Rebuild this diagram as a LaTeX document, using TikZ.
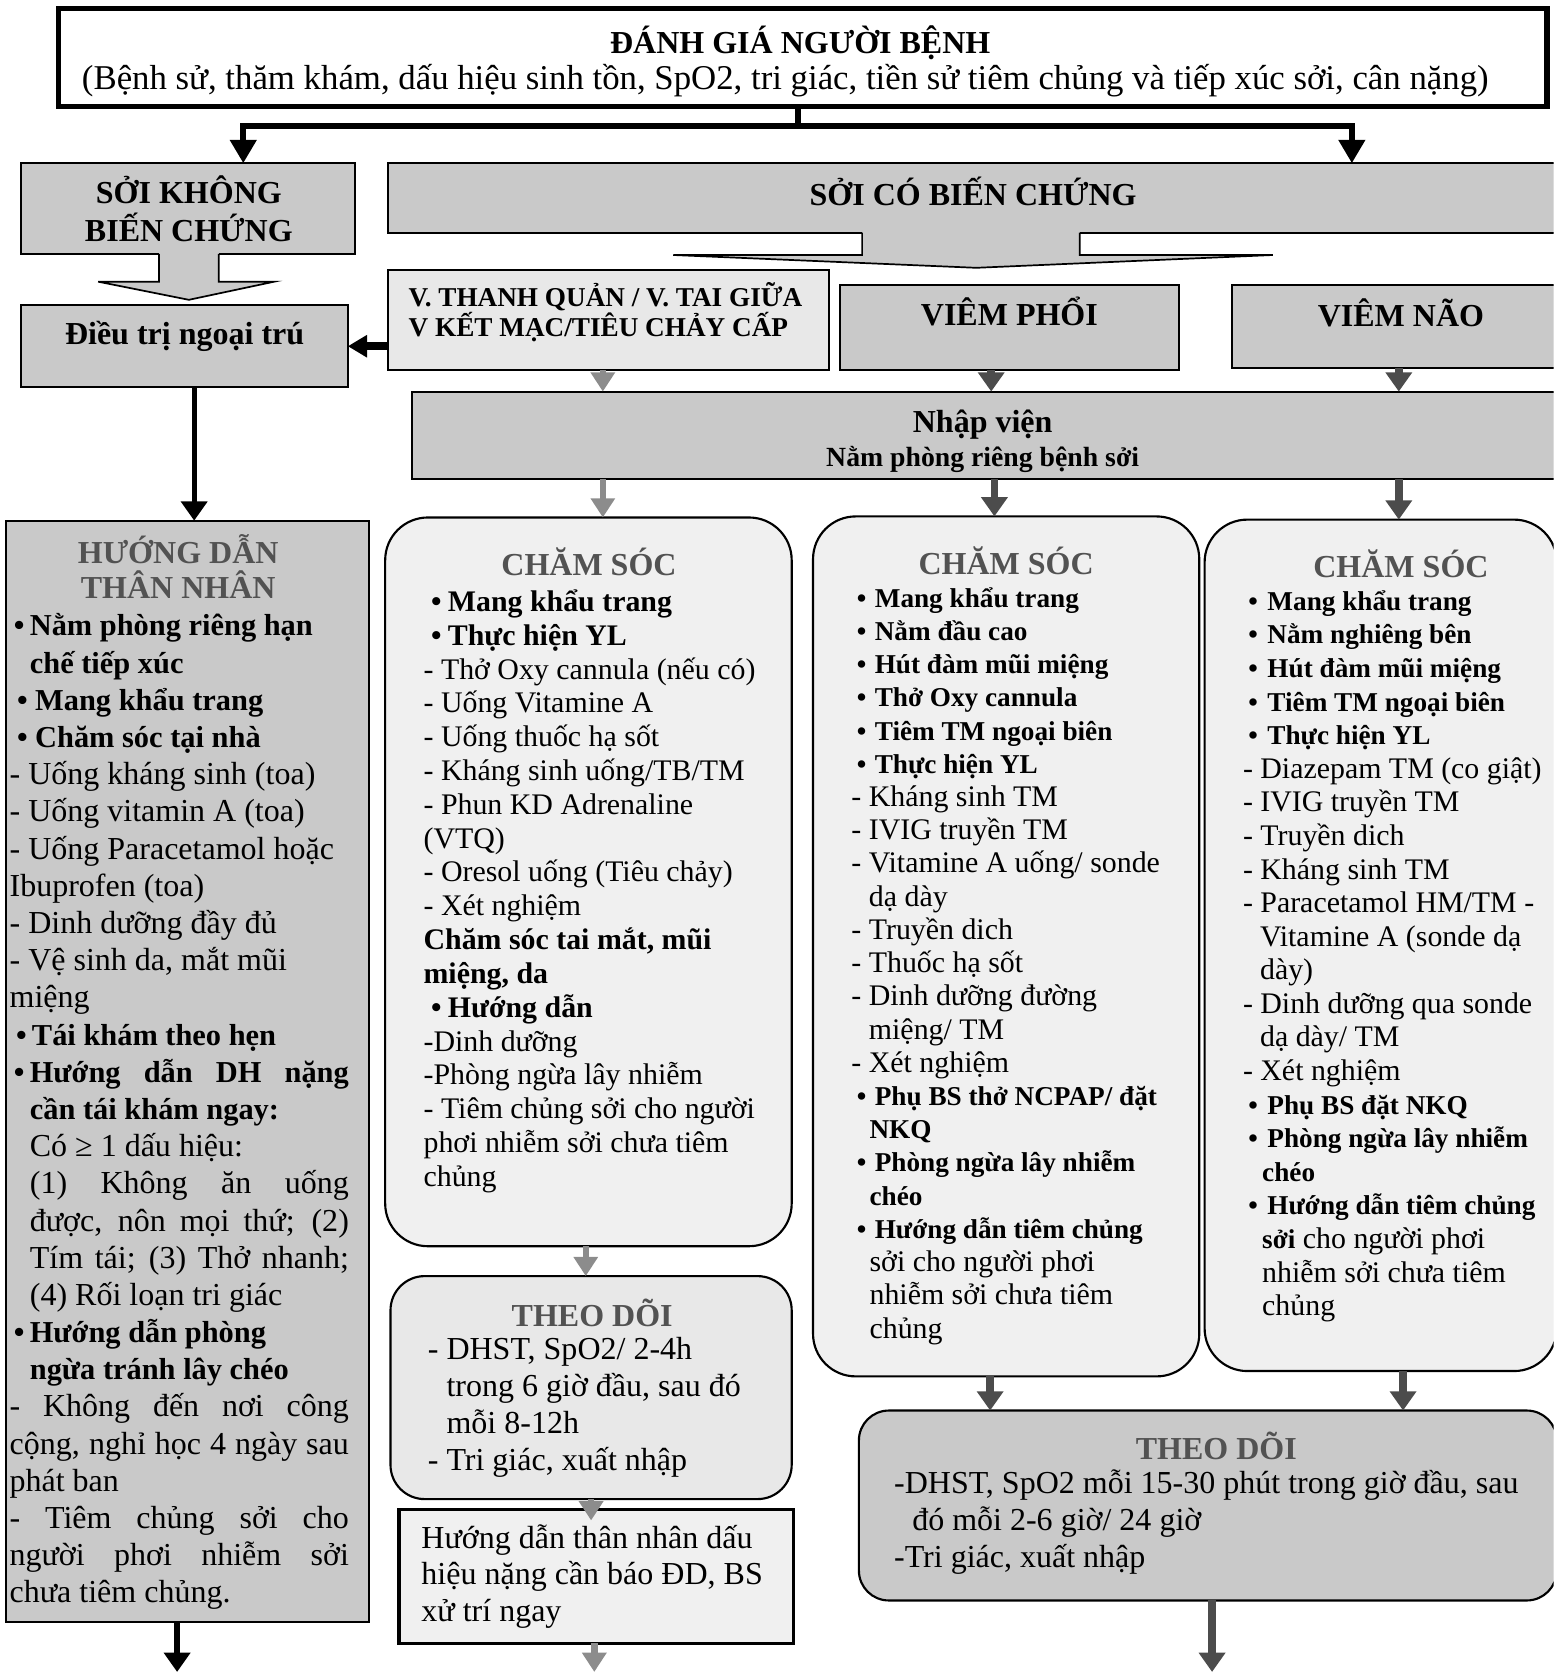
\documentclass[tikz,border=0pt]{standalone}
\usepackage{fontspec}
\setmainfont{Liberation Serif}
\usetikzlibrary{arrows.meta}
\definecolor{boxgray}{gray}{0.79}
\definecolor{lightfill}{gray}{0.94}
\definecolor{vfill}{gray}{0.91}
\definecolor{tdfill}{gray}{0.91}
\definecolor{headgray}{gray}{0.32}
\definecolor{arrowlight}{gray}{0.55}
\definecolor{arrowdark}{gray}{0.3}
\newcommand\fs[2]{\fontsize{#1}{#2}\selectfont}
\newcommand\setbf[2]{\def\bfsz{#1}\def\bfsk{#2}}
\newcommand\mybf[1]{{\fontsize{\bfsz}{\bfsk}\selectfont\bfseries #1}}
\newcommand\pbt[2]{\parbox[t]{#1}{\lineskiplimit=-50pt\lineskip=0pt #2}}
\begin{document}
\begin{tikzpicture}[x=0.5pt,y=-0.5pt,
  boxbase/.style={draw=black, line width=1pt, inner sep=0pt, outer sep=0pt},
  graybox/.style={boxbase, fill=boxgray},
  lightbox/.style={boxbase, fill=lightfill},
  sz/.style 2 args={minimum width=#1, minimum height=#2},
  txtw/.style={inner sep=0pt, outer sep=0pt, anchor=base west},
  txtc/.style={inner sep=0pt, outer sep=0pt, anchor=base},
  heavyline/.style={draw=black, line width=3pt},
  heavyarrow/.style={draw=black, line width=3pt, -{Triangle[width=12pt,length=11pt]}},
  blackarrow/.style={draw=black, line width=2.5pt, -{Triangle[width=12pt,length=9pt]}},
  lightarrow/.style={draw=arrowlight, line width=3pt, -{Triangle[width=11pt,length=9pt]}},
  darkarrow/.style={draw=arrowdark, line width=3.5pt, -{Triangle[width=12pt,length=9pt]}},
  blockarrow/.style={fill=boxgray, draw=black, line width=0.8pt}
]
\useasboundingbox (0,0) rectangle (1456,1568);
\clip (0,0) rectangle (1456,1568);

% ---------- boxes ----------
\node[boxbase, fill=white, line width=2.5pt, sz={697.5pt}{46pt}] (top) at (752.5,54) {};
\node[graybox, sz={156.5pt}{42.5pt}] (skbc) at (176.5,195.5) {};
\node[graybox, sz={553pt}{32.5pt}] (scbc) at (917,185.5) {};
\node[graybox, sz={153pt}{38.5pt}] (dtnt) at (173,324.5) {};
\node[boxbase, fill=vfill, sz={206.5pt}{47pt}] (vtq) at (570.5,300) {};
\node[graybox, sz={159pt}{40pt}] (vp) at (946,307) {};
\node[graybox, sz={157.5pt}{39pt}] (vn) at (1312.5,306) {};
\node[graybox, sz={542pt}{41pt}] (nv) at (928,408) {};
\node[graybox, sz={170pt}{516pt}] (hdtn) at (176,1004) {};
\node[lightbox, rounded corners=20pt, sz={190.5pt}{341.5pt}] (cs1) at (551.5,826.5) {};
\node[boxbase, fill=tdfill, rounded corners=16pt, sz={188pt}{104.5pt}] (td1) at (554,1300.5) {};
\node[lightbox, line width=1.5pt, sz={185pt}{62.5pt}] (hd) at (559,1477.5) {};
\node[lightbox, rounded corners=20pt, sz={181pt}{403pt}] (cs2) at (943,887) {};
\node[lightbox, rounded corners=20pt, sz={165pt}{399pt}] (cs3) at (1294,886) {};
\node[graybox, rounded corners=14pt, sz={327pt}{89pt}] (td2) at (1132,1411) {};

% ---------- block arrows ----------
\fill[boxgray] (149,236) rectangle (205,265);
\filldraw[blockarrow] (149,238) -- (149,264) -- (92,264) -- (177,281) -- (257,264) -- (205,264) -- (205,238);
\fill[boxgray] (808,216) rectangle (1012,240);
\filldraw[blockarrow] (808,218) -- (808,239) -- (631,239) -- (915,251) -- (1193,239) -- (1012,239) -- (1012,218);

% ---------- connectors ----------
\coordinate (j) at (748,118);
\coordinate (jl) at (228,118);
\coordinate (jr) at (1267,118);
\draw[heavyline] (top.south -| j) -- (j);
\draw[heavyarrow] (j) -- (jl) -- (jl |- skbc.north);
\draw[heavyarrow] (j) -- (jr) -- (jr |- scbc.north);
\draw[draw=black, line width=3.5pt, -{Triangle[width=10pt,length=9pt]}] (vtq.west |- dtnt.east) -- (dtnt.east);
\coordinate (c1) at (182,0);
\draw[blackarrow] (dtnt.south -| c1) -- (hdtn.north -| c1);
\coordinate (e1) at (166,1567);
\draw[blackarrow] (hdtn.south -| e1) -- (e1);

\coordinate (g1) at (565,0);
\coordinate (g2) at (929,0);
\coordinate (g3) at (1311,0);
\coordinate (g4) at (932,0);
\draw[lightarrow] (vtq.south -| g1) -- (nv.north -| g1);
\draw[darkarrow] (vp.south -| g2) -- (nv.north -| g2);
\draw[darkarrow] (vn.south -| g3) -- (nv.north -| g3);
\draw[lightarrow] (nv.south -| g1) -- (cs1.north -| g1);
\draw[darkarrow] (nv.south -| g4) -- (cs2.north -| g4);
\draw[darkarrow] (nv.south -| g3) -- (cs3.north -| g3);
\coordinate (g5) at (549,0);
\coordinate (g6) at (554,0);
\draw[lightarrow] (cs1.south -| g5) -- (td1.north -| g5);
\draw[lightarrow, shorten >=-5pt] (td1.south -| g6) -- (hd.north -| g6);
\coordinate (e2) at (557,1567);
\draw[lightarrow] (hd.south -| e2) -- (e2);
\coordinate (g7) at (928,0);
\coordinate (g8) at (1315,0);
\draw[darkarrow] (cs2.south -| g7) -- (td2.north -| g7);
\draw[darkarrow] (cs3.south -| g8) -- (td2.north -| g8);
\coordinate (e3) at (1136,1567);
\draw[darkarrow] (td2.south -| e3) -- (e3);

% ---------- texts ----------
\node[txtc] (ttitle) at (750,50) {\fs{15}{17}\bfseries ĐÁNH GIÁ NGƯỜI BỆNH};
\node[txtc] (tsub) at (736,84) {\fs{16.3}{18}(Bệnh sử, thăm khám, dấu hiệu sinh tồn, SpO2, tri giác, tiền sử tiêm chủng và tiếp xúc sởi, cân nặng)};
\node[txtc] (tskbc) at (177,191) {\pbt{150pt}{\centering\fs{15}{17.5}\bfseries SỞI KHÔNG\\BIẾN CHỨNG}};
\node[txtc] (tscbc) at (912,193) {\fs{15}{17}\bfseries SỞI CÓ BIẾN CHỨNG};
\node[txtc] (tdtnt) at (173,323) {\fs{15}{17}\bfseries Điều trị ngoại trú};
\node[txtw] (tvtq) at (383,287) {\pbt{220pt}{\fs{12.75}{14}\bfseries V. THANH QUẢN / V. TAI GIỮA\\V KẾT MẠC/TIÊU CHẢY CẤP}};
\node[txtc] (tvp) at (946,305) {\fs{15}{17}\bfseries VIÊM PHỔI};
\node[txtc] (tvn) at (1313,306) {\fs{15}{17}\bfseries VIÊM NÃO};
\node[txtc] (tnv) at (921,405) {\pbt{300pt}{\centering\fs{15}{16}\bfseries Nhập viện\\{\fs{13}{16}Nằm phòng riêng bệnh sởi}}};

% left column
\node[txtc, text=headgray] (thdtnh) at (167,528) {\pbt{160pt}{\centering\fs{15}{16.5}\bfseries HƯỚNG DẪN\\THÂN NHÂN}};
\node[txtw] (thdtn) at (9,596) {\pbt{170pt}{\fs{15}{17.43}\setbf{14.25}{17.43}%
\mybf{\hspace*{2pt}•\hspace{2.5pt}Nằm phòng riêng hạn}\\
\hspace*{9.5pt}\mybf{chế tiếp xúc}\\
\mybf{\hspace*{3.5pt}•\hspace{3.5pt}Mang khẩu trang}\\
\mybf{\hspace*{3.5pt}•\hspace{3.5pt}Chăm sóc tại nhà}\\
- Uống kháng sinh (toa)\\
- Uống vitamin A (toa)\\
- Uống Paracetamol hoặc\\
Ibuprofen (toa)\\
- Dinh dưỡng đầy đủ\\
- Vệ sinh da, mắt mũi\\
miệng\\
\mybf{\hspace*{3pt}•\hspace{2.5pt}Tái khám theo hẹn}\\
\mybf{\hspace*{2pt}•\hspace{2.5pt}\makebox[149.5pt][s]{Hướng dẫn DH nặng}}\\
\hspace*{9.5pt}\mybf{cần tái khám ngay:}\\
\hspace*{9.5pt}Có ≥ 1 dấu hiệu:\\
\hspace*{9.5pt}\makebox[149.5pt][s]{(1) Không ăn uống}\\
\hspace*{9.5pt}\makebox[149.5pt][s]{được, nôn mọi thứ; (2)}\\
\hspace*{9.5pt}\makebox[149.5pt][s]{Tím tái; (3) Thở nhanh;}\\
\hspace*{9.5pt}(4) Rối loạn tri giác\\
\mybf{\hspace*{2pt}•\hspace{2.5pt}Hướng dẫn phòng}\\
\hspace*{9.5pt}\mybf{ngừa tránh lây chéo}\\
\makebox[159pt][s]{- Không đến nơi công}\\
\makebox[159pt][s]{cộng, nghỉ học 4 ngày sau}\\
phát ban\\
\makebox[159pt][s]{- Tiêm chủng sởi cho}\\
\makebox[159pt][s]{người phơi nhiễm sởi}\\
chưa tiêm chủng.}};

% column 2
\node[txtc, text=headgray] (tcs1h) at (552,539) {\fs{15}{17}\bfseries CHĂM SÓC};
\node[txtw] (tcs1) at (397,573) {\pbt{180pt}{\fs{14}{15.85}\setbf{14}{15.85}%
\mybf{\hspace*{3.5pt}•\hspace{3pt}Mang khẩu trang}\\
\mybf{\hspace*{3.5pt}•\hspace{3pt}Thực hiện YL}\\
- Thở Oxy cannula (nếu có)\\
- Uống Vitamine A\\
- Uống thuốc hạ sốt\\
- Kháng sinh uống/TB/TM\\
- Phun KD Adrenaline\\
(VTQ)\\
- Oresol uống (Tiêu chảy)\\
- Xét nghiệm\\
\mybf{Chăm sóc tai mắt, mũi}\\
\mybf{miệng, da}\\
\mybf{\hspace*{3.5pt}•\hspace{3pt}Hướng dẫn}\\
-Dinh dưỡng\\
-Phòng ngừa lây nhiễm\\
- Tiêm chủng sởi cho người\\
phơi nhiễm sởi chưa tiêm\\
chủng}};
\node[txtc, text=headgray] (ttd1h) at (555,1243) {\fs{15}{17}\bfseries THEO DÕI};
\node[txtw] (ttd1) at (401,1274) {\pbt{175pt}{\fs{15}{17.35}%
- DHST, SpO2/ 2-4h\\
\hspace*{8.75pt}trong 6 giờ đầu, sau đó\\
\hspace*{8.75pt}mỗi 8-12h\\
- Tri giác, xuất nhập}};
\node[txtw] (thd) at (395,1451) {\pbt{180pt}{\fs{15}{17.25}%
Hướng dẫn thân nhân dấu\\
hiệu nặng cần báo ĐD, BS\\
xử trí ngay}};

% column 3
\node[txtc, text=headgray] (tcs2h) at (943,538) {\fs{15}{17}\bfseries CHĂM SÓC};
\node[txtw] (tcs2) at (798,569) {\pbt{170pt}{\fs{14}{15.57}\setbf{12.75}{15.57}%
\mybf{\hspace*{2.5pt}•\hspace{4pt}Mang khẩu trang}\\
\mybf{\hspace*{2.5pt}•\hspace{4pt}Nằm đầu cao}\\
\mybf{\hspace*{2.5pt}•\hspace{4pt}Hút đàm mũi miệng}\\
\mybf{\hspace*{2.5pt}•\hspace{4pt}Thở Oxy cannula}\\
\mybf{\hspace*{2.5pt}•\hspace{4pt}Tiêm TM ngoại biên}\\
\mybf{\hspace*{2.5pt}•\hspace{4pt}Thực hiện YL}\\
- Kháng sinh TM\\
- IVIG truyền TM\\
- Vitamine A uống/ sonde\\
\hspace*{8.2pt}dạ dày\\
- Truyền dich\\
- Thuốc hạ sốt\\
- Dinh dưỡng đường\\
\hspace*{8.2pt}miệng/ TM\\
- Xét nghiệm\\
\mybf{\hspace*{2.5pt}•\hspace{4pt}Phụ BS thở NCPAP/ đặt}\\
\hspace*{8.5pt}\mybf{NKQ}\\
\mybf{\hspace*{2.5pt}•\hspace{4pt}Phòng ngừa lây nhiễm}\\
\hspace*{8.5pt}\mybf{chéo}\\
\mybf{\hspace*{2.5pt}•\hspace{4pt}Hướng dẫn tiêm chủng}\\
\hspace*{8.5pt}sởi cho người phơi\\
\hspace*{8.5pt}nhiễm sởi chưa tiêm\\
\hspace*{8.5pt}chủng}};

% column 4
\node[txtc, text=headgray] (tcs3h) at (1313,541) {\fs{15}{17}\bfseries CHĂM SÓC};
\node[txtw] (tcs3) at (1165,572) {\pbt{150pt}{\fs{14}{15.74}\setbf{12.75}{15.74}%
\mybf{\hspace*{2.5pt}•\hspace{4.5pt}Mang khẩu trang}\\
\mybf{\hspace*{2.5pt}•\hspace{4.5pt}Nằm nghiêng bên}\\
\mybf{\hspace*{2.5pt}•\hspace{4.5pt}Hút đàm mũi miệng}\\
\mybf{\hspace*{2.5pt}•\hspace{4.5pt}Tiêm TM ngoại biên}\\
\mybf{\hspace*{2.5pt}•\hspace{4.5pt}Thực hiện YL}\\
- Diazepam TM (co giật)\\
- IVIG truyền TM\\
- Truyền dich\\
- Kháng sinh TM\\
- Paracetamol HM/TM -\\
\hspace*{8pt}Vitamine A (sonde dạ\\
\hspace*{8pt}dày)\\
- Dinh dưỡng qua sonde\\
\hspace*{8pt}dạ dày/ TM\\
- Xét nghiệm\\
\mybf{\hspace*{2.5pt}•\hspace{4.5pt}Phụ BS đặt NKQ}\\
\mybf{\hspace*{2.5pt}•\hspace{4.5pt}Phòng ngừa lây nhiễm}\\
\hspace*{9pt}\mybf{chéo}\\
\mybf{\hspace*{2.5pt}•\hspace{4.5pt}Hướng dẫn tiêm chủng}\\
\hspace*{9pt}\mybf{sởi} cho người phơi\\
\hspace*{9pt}nhiễm sởi chưa tiêm\\
\hspace*{9pt}chủng}};

\node[txtc, text=headgray] (ttd2h) at (1140,1368) {\fs{15}{17}\bfseries THEO DÕI};
\node[txtw] (ttd2) at (838,1400) {\pbt{320pt}{\fs{15}{17.25}%
-DHST, SpO2 mỗi 15-30 phút trong giờ đầu, sau\\
\hspace*{8.5pt}đó mỗi 2-6 giờ/ 24 giờ\\
-Tri giác, xuất nhập}};
\end{tikzpicture}
\end{document}
